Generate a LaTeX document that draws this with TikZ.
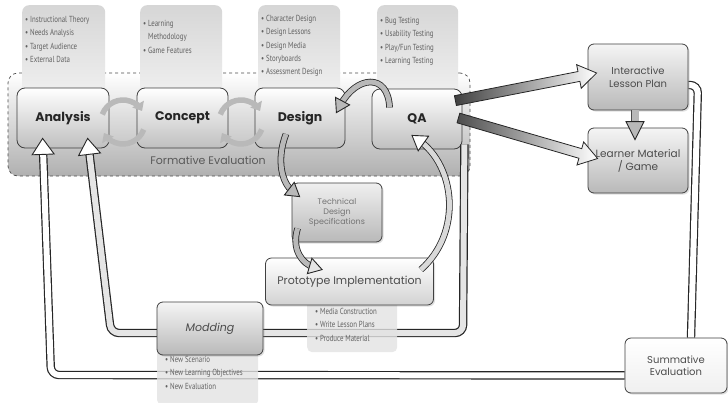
\documentclass[tikz,border=0pt]{standalone}
\usepackage{fontspec}
\setmainfont{Poppins}
\newfontfamily\notefont[FakeStretch=0.78]{PT Sans}
\usetikzlibrary{arrows.meta,calc,shadows}
\pgfdeclarelayer{base}
\pgfdeclarelayer{pipes}
\pgfsetlayers{base,pipes,main}

% arrow head: fill, tip, point the head comes from, length, half width
\newcommand\arrowtip[5]{%
  \draw[line width=0.9pt, draw=black!85, fill=#1, line join=miter]
    ($(#2)!#4!(#3)!#5!90:(#2)$) -- (#2) -- ($(#2)!#4!(#3)!#5!-90:(#2)$) -- cycle;}

\begin{document}
\begin{tikzpicture}[x=1pt,y=-1pt,
  frame/.style={draw=gray!60!black, dashed, line width=0.7pt, rounded corners=10pt,
    top color=white, bottom color=gray!62, inner sep=0pt},
  stage/.style={draw=gray!50!black, line width=0.8pt, rounded corners=8pt,
    top color=white, bottom color=gray!50, minimum width=#1, minimum height=60pt,
    inner sep=0pt, font=\fontsize{12.5}{12.5}\selectfont\bfseries, text=black!85},
  panel/.style={rounded corners=7pt, top color=gray!32, bottom color=gray!12,
    anchor=north west, inner sep=0pt},
  notes/.style={rounded corners=5pt, fill=gray!22, fill opacity=0.8,
    anchor=north west, inner sep=0pt},
  bullets/.style={font=\notefont\fontsize{8.8}{13.3}\selectfont, align=left,
    text=black!62, anchor=north west, inner sep=0pt},
  box/.style={draw=gray!50!black, line width=0.8pt, rounded corners=6pt,
    top color=gray!8, bottom color=gray!55, text=black!70, align=center, inner sep=0pt,
    drop shadow={opacity=0.25, shadow xshift=1.5pt, shadow yshift=-1.5pt}},
  pipe/.style={line width=1.2pt, draw=black!85, double=#1, double distance=6pt,
    rounded corners=8pt},
  shaft/.style={line width=0.8pt, draw=black!85, double=#1, double distance=5pt},
  cycle arrow/.style={line width=5.5pt, draw=gray!55, -{Triangle[length=8pt,width=13pt]}},
]
\useasboundingbox (0,0) rectangle (728,402);

% ---------------- formative evaluation loop ----------------
\begin{pgfonlayer}{base}
  \fill[white] (0,0) rectangle (728,402);
  \node[frame, minimum width=462pt, minimum height=103pt] (formative) at (239,124.5) {};
  \node[panel, minimum width=83pt, minimum height=90pt] (anapanel) at (22,5) {};
  \node[panel, minimum width=82pt, minimum height=90pt] (conpanel) at (140,5) {};
  \node[panel, minimum width=82pt, minimum height=90pt] (despanel) at (258,5) {};
  \node[panel, minimum width=81pt, minimum height=90pt] (qapanel) at (377,5) {};

  \node[bullets] (anabul) at (25,16) {• Instructional Theory\\• Needs Analysis\\• Target Audience\\• External Data};
  \node[bullets] (conbul) at (143,20) {• Learning\\\phantom{• }Methodology\\• Game Features};
  \node[bullets] (desbul) at (261,15) {• Character Design\\• Design Lessons\\• Design Media\\• Storyboards\\• Assessment Design};
  \node[bullets] (qabul) at (380,17) {• Bug Testing\\• Usability Testing\\• Play/Fun Testing\\• Learning Testing};

  \node[stage=92pt] (analysis) at (63,118) {Analysis};
  \node[stage=91pt] (concept) at (182.5,118) {Concept};
  \node[stage=90pt] (design) at (300,118) {Design};
  \node[stage=90pt] (qa) at (417,119) {QA};

  \node[font=\fontsize{11}{11}\selectfont, text=black!65] (felabel) at (208,160) {Formative Evaluation};

  % two-arrow cycles between the first stages
  \draw[cycle arrow] (123,122) ++(200:22) arc[start angle=200, end angle=330, radius=22];
  \draw[cycle arrow] (123,122) ++(20:22) arc[start angle=20, end angle=150, radius=22];
  \draw[cycle arrow] (241,122) ++(200:22) arc[start angle=200, end angle=330, radius=22];
  \draw[cycle arrow] (241,122) ++(20:22) arc[start angle=20, end angle=150, radius=22];
\end{pgfonlayer}

% ---------------- notes below the lower boxes ----------------
\node[notes, minimum width=90pt, minimum height=54pt] (protonotes) at (307,298) {};
\node[notes, minimum width=101pt, minimum height=60pt] (modnotes) at (157,345) {};
\node[bullets] (protobul) at (315,308) {• Media Construction\\• Write Lesson Plans\\• Produce Material};
\node[bullets] (modbul) at (165,356) {• New Scenario\\• New Learning Objectives\\• New Evaluation};

% ---------------- boxes ----------------
\node[box, top color=gray!12, bottom color=gray!55, minimum width=90pt, minimum height=59pt,
  font=\fontsize{8}{10}\selectfont, text=black!55] (tds) at (337,212.5)
  {Technical\\Design\\Specifications};
\node[box, top color=white, bottom color=gray!35, minimum width=168pt, minimum height=47pt,
  font=\fontsize{11}{11}\selectfont] (proto) at (349.5,281.5) {Prototype Implementation};
\node[box, minimum width=106pt, minimum height=53pt,
  font=\fontsize{11}{11}\selectfont\itshape] (modding) at (210,328.5) {Modding};
\node[box, minimum width=100pt, minimum height=66pt,
  font=\fontsize{10}{12.5}\selectfont] (ilp) at (638,77) {Interactive\\Lesson Plan};
\node[box, minimum width=100pt, minimum height=65pt,
  font=\fontsize{10.5}{13}\selectfont] (lm) at (638,160.5) {Learner Material\\/ Game};
\node[box, top color=white, bottom color=gray!12, minimum width=102pt, minimum height=55pt,
  font=\fontsize{10}{12.5}\selectfont] (summ) at (676,365.5) {Summative\\Evaluation};

% ---------------- feedback pipes ----------------
\begin{pgfonlayer}{pipes}
  % summative evaluation back to analysis
  \coordinate (o1) at ($(summ.south west)+(0,-18)$);
  \coordinate (o2) at (51,375);
  \coordinate (o3) at ($(analysis.south west)+(26,-10)$);
  \draw[pipe=white, shorten >=13pt] (o1) -- (o2) -- (o3);
  \arrowtip{white}{o3}{o2}{16pt}{11pt}
  % QA through modding back to analysis
  \coordinate (i0) at ($(qa.south east)+(2,-5)$);
  \coordinate (i1) at (463,333);
  \coordinate (i2) at (111,333);
  \coordinate (i3) at ($(analysis.south west)+(71,-10)$);
  \draw[pipe=gray!20, shorten >=13pt] (i0) -- (i1) -- (i2) -- (i3);
  \arrowtip{white}{i3}{i2}{16pt}{11pt}
  % lesson plan down to summative evaluation
  \coordinate (r0) at ($(ilp.east)+(0,8)$);
  \coordinate (r1) at (698,85);
  \coordinate (r2) at ($(summ.north)+(15,0)$);
  \draw[pipe=white] (r0) -- (r1) -- (r2);
\end{pgfonlayer}

% ---------------- process arrows ----------------
% QA back to design
\coordinate (qd0) at ($(qa.north west)+(18,19)$);
\coordinate (qd3) at ($(design.north east)+(-9,25)$);
\draw[shaft=gray!55, shorten >=9pt] (qd0) .. controls (388,72) and (356,76) .. (qd3);
\arrowtip{gray!55}{qd3}{356,76}{13pt}{8pt}

% design to technical specifications
\coordinate (dt0) at ($(design.center)+(-14,16)$);
\coordinate (dt3) at ($(tds.north west)+(8,14)$);
\draw[shaft=gray!55, shorten >=9pt] (dt0) .. controls (276,160) and (282,183) .. (dt3);
\arrowtip{gray!55}{dt3}{282,183}{13pt}{8pt}

% technical specifications to prototype
\coordinate (tp0) at ($(tds.south west)+(6,-14)$);
\coordinate (tp3) at ($(proto.north west)+(57,12)$);
\draw[shaft=gray!55, shorten >=9pt] (tp0) .. controls (291,250) and (303,264) .. (tp3);
\arrowtip{gray!20}{tp3}{303,264}{13pt}{8pt}

% prototype to QA
\coordinate (pq0) at ($(proto.north east)+(-13,12)$);
\coordinate (pq3) at ($(qa.south)+(-5,-14)$);
\draw[shaft=gray!30, shorten >=9pt] (pq0) .. controls (463,232) and (455,166) .. (pq3);
\arrowtip{white}{pq3}{455,166}{14pt}{9pt}

% lesson plan to learner material
\coordinate (il0) at ($(ilp.south)+(-3,0)$);
\coordinate (il1) at ($(lm.north)+(-3,12)$);
\draw[line width=0.8pt, draw=black!70, double=gray!55, double distance=7pt, shorten >=10pt] (il0) -- (il1);
\arrowtip{gray!55}{il1}{il0}{18pt}{9pt}

% QA out to the deliverables
\coordinate (s1) at ($(qa.north east)+(-7,12)$);
\coordinate (t1) at ($(ilp.west)+(9,-4)$);
\path[draw=black!85, line width=0.8pt, left color=black!75, right color=white, line join=miter]
  ($(s1)!5pt!90:(t1)$) -- ($(t1)!18pt!(s1)!5pt!90:(t1)$) -- ($(t1)!18pt!(s1)!12pt!90:(t1)$)
  -- (t1) -- ($(t1)!18pt!(s1)!12pt!-90:(t1)$) -- ($(t1)!18pt!(s1)!5pt!-90:(t1)$)
  -- ($(s1)!5pt!-90:(t1)$) -- cycle;
\coordinate (s2) at ($(qa.east)+(-4,-1)$);
\coordinate (t2) at ($(lm.west)+(10,-2)$);
\path[draw=black!85, line width=0.8pt, left color=black!70, right color=white, line join=miter]
  ($(s2)!5pt!90:(t2)$) -- ($(t2)!18pt!(s2)!5pt!90:(t2)$) -- ($(t2)!18pt!(s2)!12pt!90:(t2)$)
  -- (t2) -- ($(t2)!18pt!(s2)!12pt!-90:(t2)$) -- ($(t2)!18pt!(s2)!5pt!-90:(t2)$)
  -- ($(s2)!5pt!-90:(t2)$) -- cycle;
\end{tikzpicture}
\end{document}
